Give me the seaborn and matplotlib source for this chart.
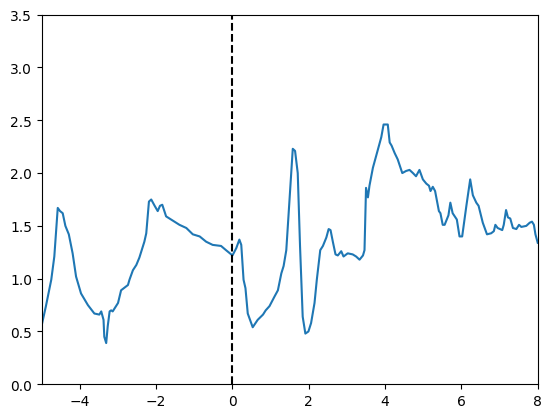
import numpy as np
import pandas as pd
import matplotlib
matplotlib.use("Agg")
import matplotlib.pyplot as plt
import seaborn as sns

# values
x_vals = [-5.00, -4.89, -4.75, -4.67, -4.58, -4.52, -4.45, -4.38, -4.29, -4.19,
          -4.10, -3.97, -3.79, -3.62, -3.49, -3.44, -3.38, -3.36, -3.31, -3.27,
          -3.22, -3.18, -3.14, -3.00, -2.92, -2.74, -2.70, -2.61, -2.52, -2.44,
          -2.31, -2.26, -2.19, -2.13, -2.04, -1.96, -1.90, -1.84, -1.74, -1.61,
          -1.39, -1.21, -1.04, -0.86, -0.69, -0.52, -0.30, -0.17, 0.00, 0.10,
          0.18, 0.23, 0.29, 0.34, 0.40, 0.53, 0.66, 0.80, 0.87, 0.97,
          1.10, 1.19, 1.28, 1.34, 1.41, 1.49, 1.58, 1.64, 1.71, 1.77,
          1.84, 1.91, 1.99, 2.06, 2.15, 2.21, 2.30, 2.37, 2.46, 2.52,
          2.57, 2.63, 2.70, 2.76, 2.85, 2.91, 3.02, 3.15, 3.24, 3.33,
          3.42, 3.46, 3.50, 3.55, 3.59, 3.68, 3.81, 3.90, 3.96, 4.07,
          4.12, 4.17, 4.25, 4.33, 4.45, 4.55, 4.64, 4.73, 4.81, 4.90,
          4.99, 5.08, 5.15, 5.19, 5.25, 5.31, 5.41, 5.45, 5.51, 5.56,
          5.66, 5.71, 5.77, 5.88, 5.95, 6.02, 6.13, 6.23, 6.30, 6.39,
          6.45, 6.56, 6.67, 6.78, 6.85, 6.89, 6.95, 7.07, 7.11, 7.17,
          7.22, 7.28, 7.35, 7.44, 7.51, 7.57, 7.70, 7.79, 7.85, 7.90,
          7.94, 8.00]
y_vals = [0.56, 0.74, 0.99, 1.21, 1.67, 1.64, 1.62, 1.50, 1.42, 1.24,
          1.02, 0.86, 0.75, 0.67, 0.66, 0.69, 0.61, 0.45, 0.39, 0.55,
          0.69, 0.70, 0.69, 0.77, 0.89, 0.94, 0.99, 1.08, 1.13, 1.20,
          1.35, 1.43, 1.73, 1.75, 1.69, 1.64, 1.69, 1.70, 1.59, 1.56,
          1.51, 1.48, 1.42, 1.40, 1.35, 1.32, 1.31, 1.27, 1.22, 1.29,
          1.37, 1.32, 0.99, 0.91, 0.67, 0.54, 0.61, 0.66, 0.70, 0.74,
          0.83, 0.89, 1.05, 1.12, 1.27, 1.72, 2.23, 2.21, 2.00, 1.31,
          0.64, 0.48, 0.50, 0.58, 0.77, 0.99, 1.27, 1.31, 1.39, 1.47,
          1.46, 1.35, 1.23, 1.22, 1.26, 1.21, 1.24, 1.23, 1.21, 1.18,
          1.22, 1.27, 1.86, 1.77, 1.88, 2.05, 2.22, 2.34, 2.46, 2.46,
          2.29, 2.26, 2.19, 2.13, 2.00, 2.02, 2.03, 2.00, 1.97, 2.03,
          1.94, 1.90, 1.88, 1.83, 1.87, 1.83, 1.64, 1.62, 1.51, 1.51,
          1.60, 1.72, 1.62, 1.56, 1.40, 1.40, 1.69, 1.94, 1.79, 1.72,
          1.69, 1.53, 1.42, 1.43, 1.45, 1.51, 1.48, 1.46, 1.51, 1.65,
          1.58, 1.57, 1.48, 1.47, 1.51, 1.49, 1.50, 1.53, 1.54, 1.51,
          1.42, 1.34]

df = pd.DataFrame({"x": x_vals, "y": y_vals})

fig, ax = plt.subplots(figsize=(6.4, 4.8), dpi=100)
sns.lineplot(data=df, x="x", y="y", ax=ax, color="#1f77b4")
ax.axvline(0, color="k", linestyle="--")
ax.set_xlim(-5, 8)
ax.set_ylim(0, 3.5)
ax.set_xlabel("")
ax.set_ylabel("")
plt.savefig("out.png", dpi=100, bbox_inches="tight")
